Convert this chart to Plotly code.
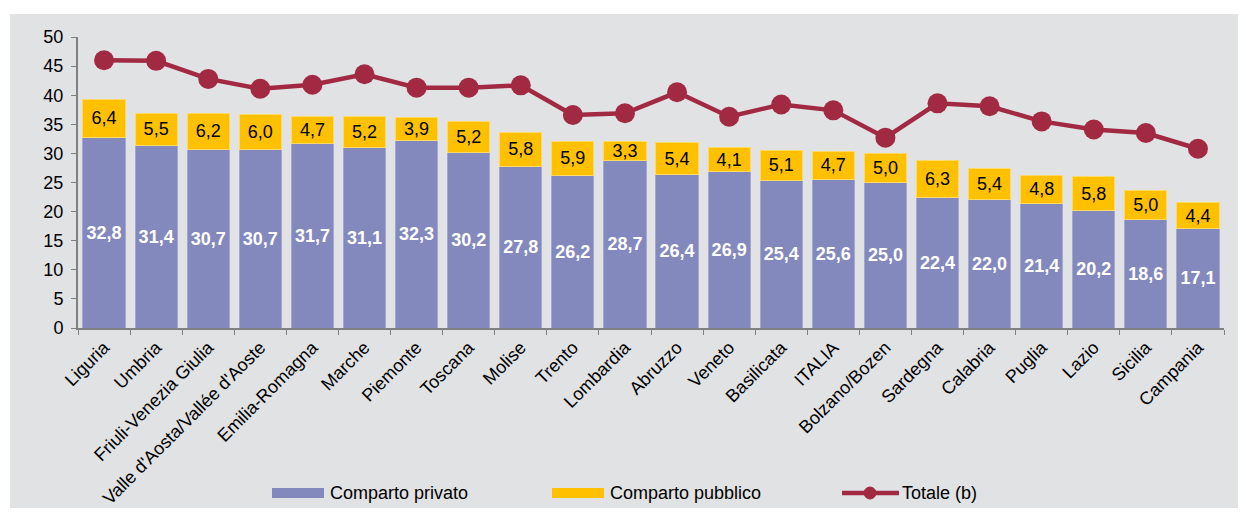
import plotly.graph_objects as go

regioni = [
    "Liguria", "Umbria", "Friuli-Venezia Giulia", "Valle d'Aosta/Vallée d'Aoste",
    "Emilia-Romagna", "Marche", "Piemonte", "Toscana", "Molise", "Trento",
    "Lombardia", "Abruzzo", "Veneto", "Basilicata", "ITALIA", "Bolzano/Bozen",
    "Sardegna", "Calabria", "Puglia", "Lazio", "Sicilia", "Campania",
]
privato = [32.8, 31.4, 30.7, 30.7, 31.7, 31.1, 32.3, 30.2, 27.8, 26.2, 28.7,
           26.4, 26.9, 25.4, 25.6, 25.0, 22.4, 22.0, 21.4, 20.2, 18.6, 17.1]
pubblico = [6.4, 5.5, 6.2, 6.0, 4.7, 5.2, 3.9, 5.2, 5.8, 5.9, 3.3,
            5.4, 4.1, 5.1, 4.7, 5.0, 6.3, 5.4, 4.8, 5.8, 5.0, 4.4]
totale = [46.0, 45.9, 42.8, 41.1, 41.8, 43.6, 41.3, 41.3, 41.7, 36.6, 36.9,
          40.5, 36.3, 38.4, 37.4, 32.7, 38.6, 38.1, 35.5, 34.1, 33.5, 30.8]


def virgola(v):
    # decimali all'italiana
    return f"{v:.1f}".replace(".", ",")


FONT = "Liberation Sans, Arial, sans-serif"
GRIGIO = "#E1E2E4"
VIOLA = "#8489BD"
GIALLO = "#FFC000"
ROSSO = "#A12A42"

# dimensioni del figure e area del grafico (px)
W, H = 1230, 500
ML, MR, MT, MB = 70, 14, 29, 180
PW, PH = W - ML - MR, H - MT - MB


def px_x(x):
    return (x - ML) / PW


def px_y(y):
    return (H - MB - y) / PH


fig = go.Figure()

fig.add_trace(go.Bar(
    x=regioni, y=privato, name="Comparto privato",
    marker=dict(color=VIOLA, line=dict(color="#A3A8D2", width=1)),
    text=[virgola(v) for v in privato],
    textposition="inside", insidetextanchor="middle", constraintext="none", textangle=0,
    textfont=dict(color="white", size=18, family=FONT, weight="bold"),
))
fig.add_trace(go.Bar(
    x=regioni, y=pubblico, name="Comparto pubblico",
    marker=dict(color=GIALLO, line=dict(color="#FFD966", width=1)),
    text=[virgola(v) for v in pubblico],
    textposition="inside", insidetextanchor="middle", constraintext="none", textangle=0,
    textfont=dict(color="black", size=18, family=FONT),
))
fig.add_trace(go.Scatter(
    x=regioni, y=totale, name="Totale (b)", mode="lines+markers",
    line=dict(color=ROSSO, width=4.5),
    marker=dict(color=ROSSO, size=20),
))

# bordo bianco in alto e a sinistra, il resto del foglio è grigio
fig.add_shape(type="rect", xref="paper", yref="paper",
              x0=-0.2, x1=1.2, y0=px_y(6), y1=1.3,
              fillcolor="white", line=dict(width=0), layer="below")
fig.add_shape(type="rect", xref="paper", yref="paper",
              x0=-0.2, x1=px_x(2), y0=-1, y1=1.3,
              fillcolor="white", line=dict(width=0), layer="below")

# legenda disegnata a mano (riquadri larghi come nell'originale)
LEG_Y = 485
for nome, colore, x0 in [("Comparto privato", VIOLA, 264),
                         ("Comparto pubblico", GIALLO, 544)]:
    fig.add_shape(type="rect", xref="paper", yref="paper",
                  x0=px_x(x0), x1=px_x(x0 + 52), y0=px_y(LEG_Y + 5), y1=px_y(LEG_Y - 5),
                  fillcolor=colore, line=dict(width=0))
    fig.add_annotation(text=nome, xref="paper", yref="paper", x=px_x(x0 + 56), y=px_y(LEG_Y),
                       xanchor="left", yanchor="middle", showarrow=False,
                       font=dict(size=18, family=FONT, color="black"))
fig.add_shape(type="line", xref="paper", yref="paper",
              x0=px_x(834), x1=px_x(891), y0=px_y(LEG_Y), y1=px_y(LEG_Y),
              line=dict(color=ROSSO, width=4.5))
fig.add_shape(type="circle", xref="paper", yref="paper",
              x0=px_x(856), x1=px_x(868), y0=px_y(LEG_Y + 6), y1=px_y(LEG_Y - 6),
              fillcolor=ROSSO, line=dict(color=ROSSO, width=1))
fig.add_annotation(text="Totale (b)", xref="paper", yref="paper", x=px_x(892), y=px_y(LEG_Y),
                   xanchor="left", yanchor="middle", showarrow=False,
                   font=dict(size=18, family=FONT, color="black"))

fig.update_layout(
    width=W, height=H,
    barmode="stack", bargap=0.19,
    paper_bgcolor=GRIGIO, plot_bgcolor=GRIGIO,
    margin=dict(l=ML, r=MR, t=MT, b=MB),
    font=dict(family=FONT, size=18, color="black"),
    showlegend=False,
)
fig.update_yaxes(range=[0, 50], dtick=5, showgrid=False, zeroline=False,
                 showline=True, linecolor="#808080", linewidth=2,
                 ticks="outside", ticklen=5, tickcolor="#808080",
                 ticklabelstandoff=4, tickfont=dict(size=18), automargin=False)
fig.update_xaxes(range=[-0.5, len(regioni) - 0.5],
                 showgrid=False, showline=True, linecolor="#808080", linewidth=2,
                 ticks="outside", ticklen=5, tickcolor="#808080",
                 tickson="boundaries", tickangle=-45, tickfont=dict(size=18),
                 automargin=False)

fig.write_html("out.html")
